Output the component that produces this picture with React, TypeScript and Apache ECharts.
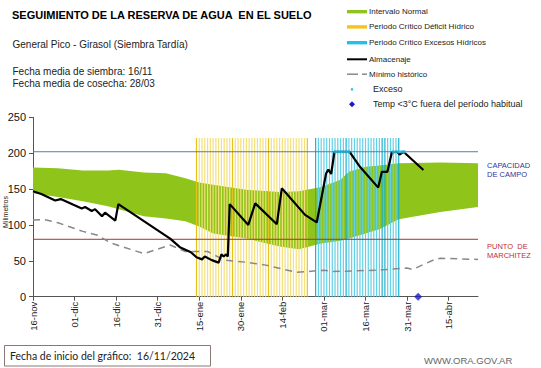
import React, { useEffect, useRef } from 'react';
import * as echarts from 'echarts';

// ---- Data (day index from 16/11/2024) ----
const xTickDays = [0, 15, 30, 45, 60, 75, 90, 105, 120, 135, 150];
const monthNames = ['ene', 'feb', 'mar', 'abr', 'may', 'jun', 'jul', 'ago', 'sep', 'oct', 'nov', 'dic'];
const yTicks = [0, 50, 100, 150, 200, 250];

const bandDays = [0, 9, 18, 27, 31, 40, 48, 55, 60, 65, 77, 89, 96, 104, 111, 114, 120, 125, 132, 147, 160.6];
const bandUpper = [180, 179, 176, 176, 177, 173, 172, 165, 159, 156, 149, 146, 147, 153, 163, 174, 181, 183, 186, 187, 186];
const bandLower = [144, 139, 133, 126, 122, 112, 109, 105, 98, 88, 81, 70, 66, 74, 78, 81, 88, 94, 108, 118, 125];

const storageDays = [0, 3, 8, 10, 14.6, 17.6, 18.8, 21.2, 22.4, 24.9, 26, 29.7, 30.8, 49.5, 53, 57, 59, 61, 62, 64.5, 67, 68, 68.8, 69.7, 70.3, 71, 77.7, 80.2, 88, 89.8, 98.2, 102.4, 105.8, 106.6, 107.6, 108.8, 114.2, 118, 124.6, 125.9, 127.9, 129.5, 131.5, 132.3, 133.7, 140.9];
const storageValues = [147, 143, 134, 136, 128, 123, 125, 119.5, 122, 112, 117, 106, 129, 81, 69, 62, 55, 52, 56, 51, 47.5, 59, 56, 59, 56, 129, 100, 130, 101, 151, 114, 103.5, 172, 177, 171, 202, 202, 181, 152, 174, 174, 201, 202, 198, 202, 176.5];

const minDays = [0, 4, 9, 18, 23, 28, 40, 49.5, 55, 63, 69, 77, 84, 95, 99, 105, 108, 125, 135, 137, 145, 147, 160.6];
const minValues = [107, 107.5, 103, 91, 86, 75, 60, 72, 63, 63, 51, 48, 44, 34, 35, 37, 35, 37, 40, 38, 52, 53.5, 52];

const deficitDays = [59, 60, 61, 62, 63, 64, 65, 66, 67, 68, 69, 70, 71, 72, 73, 74, 75, 76, 77, 78, 79, 80, 81, 82, 83, 84, 85, 86, 87, 88, 89, 90, 91, 92, 93, 94, 95, 96, 97, 98, 99];
const deficitDark = [59, 72, 85, 99];
const excessDays = [102, 103, 104, 105, 106, 107, 108, 109, 110, 111, 112, 113, 114, 115, 116, 117, 118, 119, 120, 121, 122, 123, 124, 125, 126, 127, 128, 129, 130, 131, 132];
const excessDark = [102, 113, 126, 127, 132];
const stripeTop = 221;

const excesoDays = [109, 110, 111, 112, 113, 114, 130, 131, 132, 133, 134];
const excesoValue = 202;
const frostDays = [139];
const capacidadCampo = 202;
const puntoMarchitez = 80;
const axisEndDay = 160.6;

const FONT = 'Liberation Sans, Arial, sans-serif';

function dayLabel(d: number): string {
  const dt = new Date(2024, 10, 16 + Math.round(d));
  return String(dt.getDate()).padStart(2, '0') + '-' + monthNames[dt.getMonth()];
}

export default function App() {
  const ref = useRef<HTMLDivElement>(null);
  useEffect(() => {
    if (!ref.current) return;
    const chart = echarts.init(ref.current, undefined, { renderer: 'svg' });
    const pairs = (xs: number[], ys: number[]) => xs.map((x, i) => [x, ys[i]]);
    const green = '#8fc41b';

    const legendRows = [11.7, 26.9, 42.7, 59.3, 74.2, 89.3, 104.3];
    const legendTexts = [
      'Intervalo Normal',
      'Periodo Crítico Déficit Hídrico',
      'Periodo Crítico Excesos Hídricos',
      'Almacenaje',
      'Mínimo histórico',
      'Exceso',
      'Temp <3°C fuera del período habitual',
    ];

    const graphic: any[] = [
      { type: 'text', x: 12, y: 15, style: { text: 'SEGUIMIENTO DE LA RESERVA DE AGUA  EN EL SUELO', font: `bold 11px ${FONT}`, fill: '#000', verticalAlign: 'middle' } },
      { type: 'text', x: 12.5, y: 44.5, style: { text: 'General Pico - Girasol (Siembra Tardía)', font: `10px ${FONT}`, fill: '#222', verticalAlign: 'middle' } },
      { type: 'text', x: 12.5, y: 71.5, style: { text: 'Fecha media de siembra: 16/11', font: `10px ${FONT}`, fill: '#222', verticalAlign: 'middle' } },
      { type: 'text', x: 12.5, y: 83.5, style: { text: 'Fecha media de cosecha: 28/03', font: `10px ${FONT}`, fill: '#222', verticalAlign: 'middle' } },
      // legend symbols
      { type: 'rect', shape: { x: 347, y: legendRows[0] - 1.7, width: 20, height: 3.4 }, style: { fill: green } },
      { type: 'rect', shape: { x: 347, y: legendRows[1] - 1.7, width: 20, height: 3.4 }, style: { fill: '#f5c31a' } },
      { type: 'rect', shape: { x: 347, y: legendRows[2] - 1.7, width: 20, height: 3.4 }, style: { fill: '#22c0ea' } },
      { type: 'line', shape: { x1: 347, y1: legendRows[3], x2: 367, y2: legendRows[3] }, style: { stroke: '#000', lineWidth: 2 } },
      { type: 'line', shape: { x1: 347, y1: legendRows[4], x2: 358, y2: legendRows[4] }, style: { stroke: '#888', lineWidth: 1.5 } },
      { type: 'line', shape: { x1: 362, y1: legendRows[4], x2: 367, y2: legendRows[4] }, style: { stroke: '#888', lineWidth: 1.5 } },
      { type: 'circle', shape: { cx: 352, cy: legendRows[5], r: 1.3 }, style: { fill: '#22c0ea' } },
      { type: 'polygon', shape: { points: [[352, legendRows[6] - 3], [355, legendRows[6]], [352, legendRows[6] + 3], [349, legendRows[6]]] }, style: { fill: '#1a1acc' } },
      ...legendTexts.map((t, i) => ({
        type: 'text', x: i >= 5 ? 373 : 369, y: legendRows[i],
        style: { text: t, font: `${i >= 5 ? 9 : 8}px ${FONT}`, fill: '#222', verticalAlign: 'middle' },
      })),
      // right side labels
      { type: 'text', x: 487, y: 170, style: { text: 'CAPACIDAD\nDE CAMPO', font: `7.5px ${FONT}`, fill: '#3333a0', verticalAlign: 'middle', lineHeight: 9.5 } },
      { type: 'text', x: 487, y: 251, style: { text: 'PUNTO  DE\nMARCHITEZ', font: `7.5px ${FONT}`, fill: '#c03030', verticalAlign: 'middle', lineHeight: 9.5 } },
      // y axis name
      { type: 'text', x: 5, y: 212, rotation: Math.PI / 2, style: { text: 'Milimetros', font: `7px ${FONT}`, fill: '#222', align: 'center', verticalAlign: 'middle' } },
      // footer
      { type: 'rect', shape: { x: 4.5, y: 345.5, width: 206, height: 20.5 }, style: { fill: '#fff', stroke: '#8a7878', lineWidth: 1 } },
      { type: 'text', x: 10, y: 356, style: { text: 'Fecha de inicio del gráfico:  16/11/2024', font: `10.5px Lato, Carlito, sans-serif`, fill: '#222', verticalAlign: 'middle' } },
      { type: 'text', x: 424, y: 360, style: { text: 'WWW.ORA.GOV.AR', font: `9.5px ${FONT}`, fill: '#666', verticalAlign: 'middle' } },
    ];

    const option: any = {
      animation: false,
      backgroundColor: '#fff',
      grid: { left: 33, top: 117.3, width: 445, height: 179.4, containLabel: false },
      graphic,
      xAxis: {
        type: 'value', min: 0, max: axisEndDay, interval: 15,
        splitLine: { show: false },
        axisLine: { lineStyle: { color: '#555', width: 1 } },
        axisTick: { length: 4, lineStyle: { color: '#555' }, customValues: xTickDays },
        axisLabel: {
          customValues: xTickDays, rotate: 90, margin: 5, fontSize: 9.5, color: '#222', fontFamily: FONT,
          formatter: (v: number) => dayLabel(v),
        },
      },
      yAxis: {
        type: 'value', min: 0, max: 250, interval: 50,
        splitLine: { show: false },
        axisLine: { show: true, lineStyle: { color: '#555', width: 1 } },
        axisTick: { show: true, length: 4, lineStyle: { color: '#555' }, customValues: yTicks },
        axisLabel: { customValues: yTicks, fontSize: 11, color: '#111', fontFamily: FONT, margin: 7 },
      },
      series: [
        {
          name: 'Intervalo Normal', type: 'custom', z: 1, silent: true,
          data: [[bandDays[0], bandLower[0]]],
          renderItem: (_params: any, api: any) => {
            const pts: number[][] = [];
            for (let i = 0; i < bandDays.length; i++) pts.push(api.coord([bandDays[i], bandUpper[i]]));
            for (let i = bandDays.length - 1; i >= 0; i--) pts.push(api.coord([bandDays[i], bandLower[i]]));
            return { type: 'polygon', shape: { points: pts }, style: { fill: green } };
          },
        },
        {
          name: 'Periodo Crítico Déficit Hídrico', type: 'bar', barWidth: 1.2, barGap: '-100%', z: 2,
          data: deficitDays.map((d) => ({ value: [d, stripeTop], itemStyle: { color: deficitDark.includes(d) ? '#e8c21c' : '#f4e07a' } })),
        },
        {
          name: 'Periodo Crítico Excesos Hídricos', type: 'bar', barWidth: 1.2, barGap: '-100%', z: 2,
          data: excessDays.map((d) => ({ value: [d, stripeTop], itemStyle: { color: excessDark.includes(d) ? '#1ab2d0' : '#62d0e6' } })),
        },
        {
          name: 'Capacidad', type: 'line', data: [[0, capacidadCampo], [axisEndDay, capacidadCampo]],
          symbol: 'none', lineStyle: { color: '#5b78b8', width: 1 }, z: 3,
        },
        {
          name: 'Marchitez', type: 'line', data: [[0, puntoMarchitez], [axisEndDay, puntoMarchitez]],
          symbol: 'none', lineStyle: { color: '#a83434', width: 1 }, z: 3,
        },
        {
          name: 'Mínimo histórico', type: 'line', data: pairs(minDays, minValues),
          symbol: 'none', lineStyle: { color: '#888', width: 1.5, type: [7, 5] }, z: 4,
        },
        {
          name: 'Almacenaje', type: 'line', data: pairs(storageDays, storageValues),
          symbol: 'none', lineStyle: { color: '#000', width: 2.2 }, z: 5,
        },
        {
          name: 'Exceso', type: 'scatter', data: excesoDays.map((d) => [d, excesoValue]),
          symbol: 'circle', symbolSize: 3.5, itemStyle: { color: '#2ec6ee' }, z: 6, clip: false,
        },
        {
          name: 'Temp <3°C fuera del período habitual', type: 'scatter', data: frostDays.map((d) => [d, 0]),
          symbol: 'diamond', symbolSize: 8, itemStyle: { color: '#1a1acc' }, z: 6, clip: false,
        },
      ],
    };
    chart.setOption(option);
    return () => chart.dispose();
  }, []);
  return <div ref={ref} style={{ position: 'absolute', left: 0, top: 0, width: 541, height: 368 }} />;
}
